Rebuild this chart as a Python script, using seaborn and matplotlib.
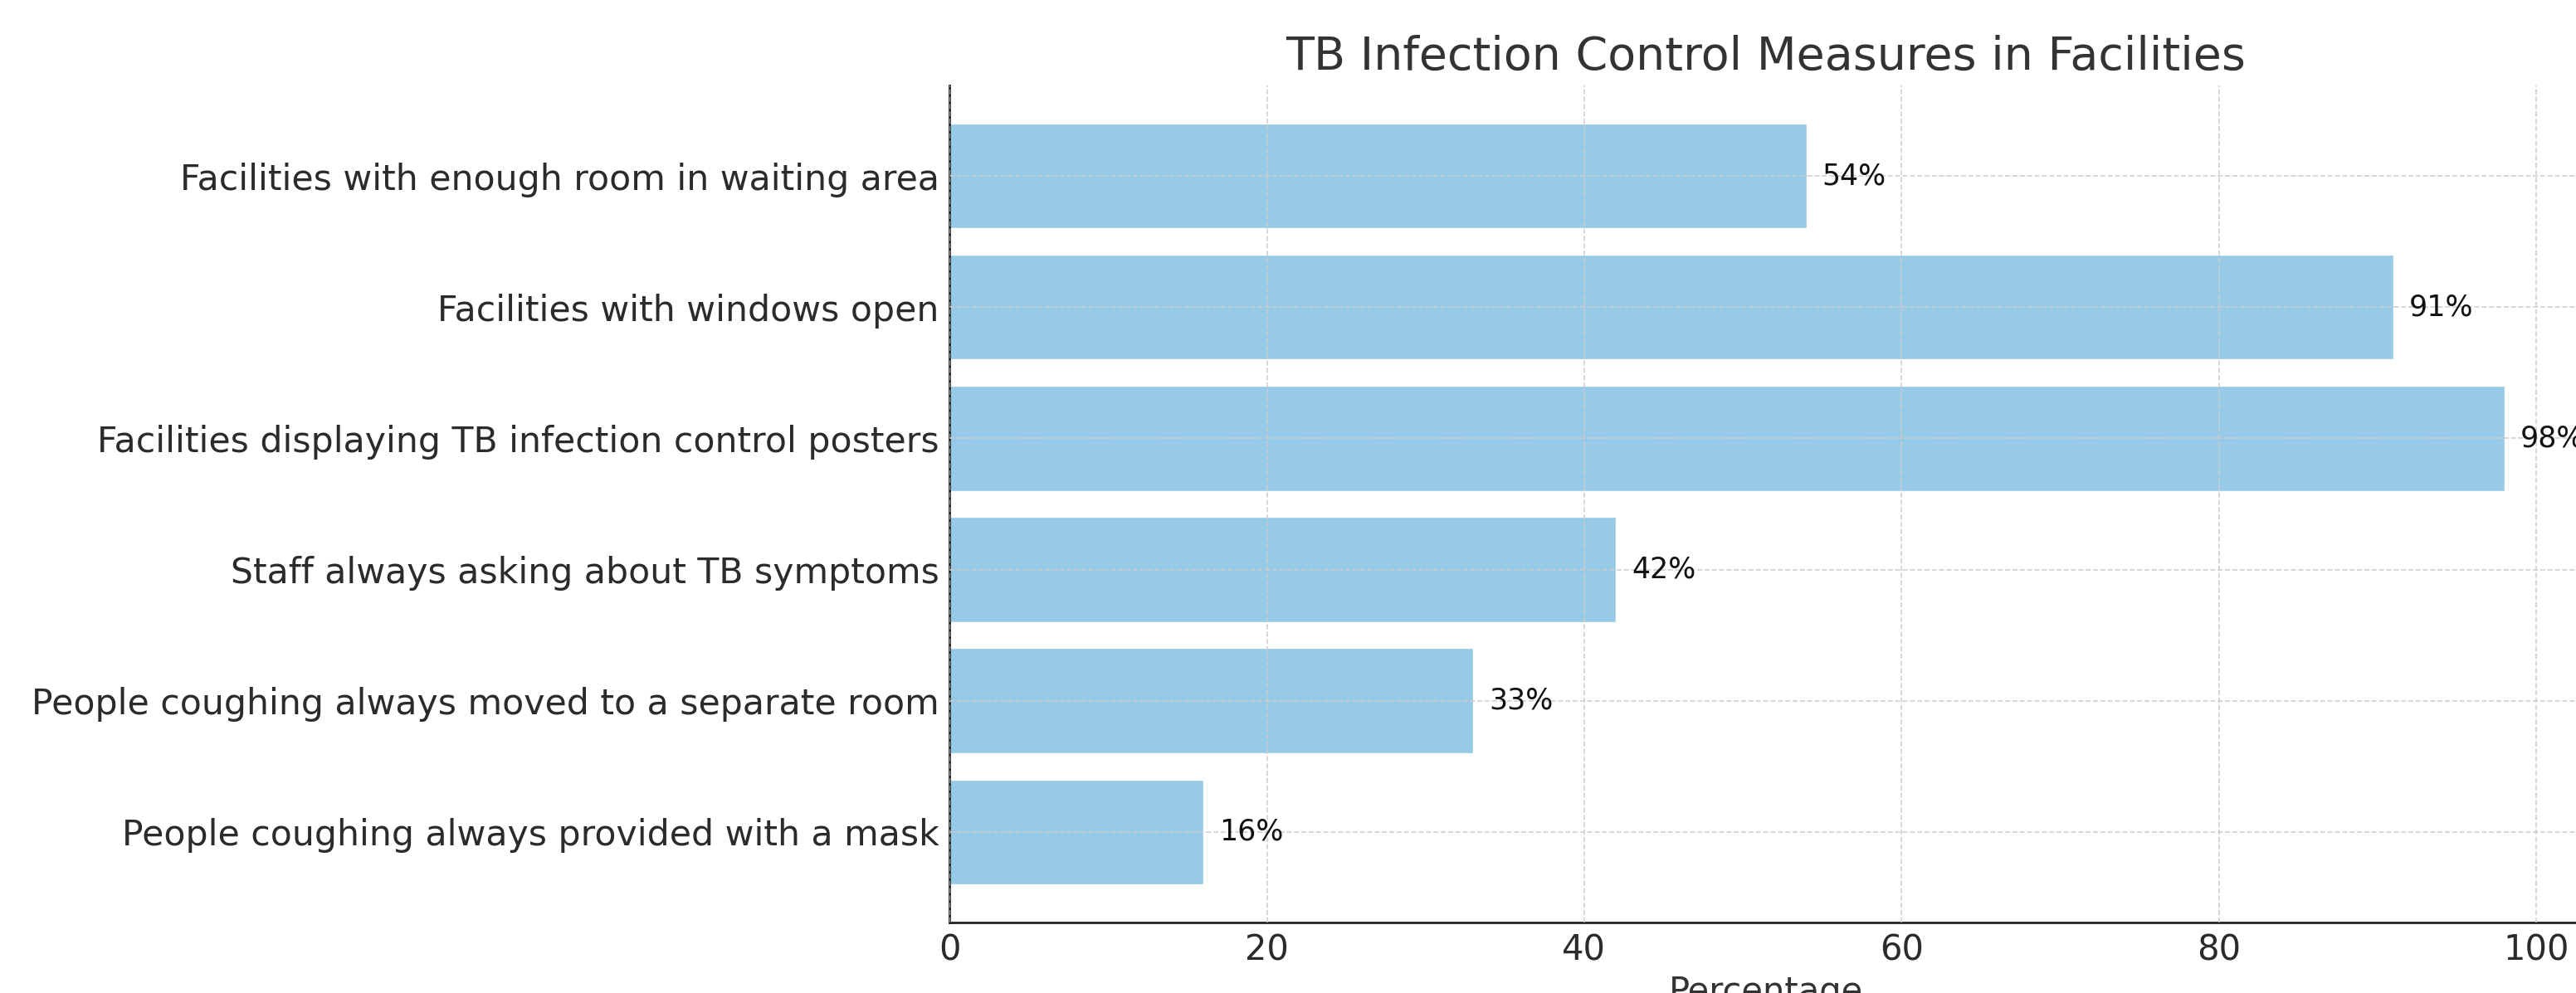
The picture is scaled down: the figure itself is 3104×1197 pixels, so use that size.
import matplotlib
matplotlib.use("Agg")
import matplotlib.pyplot as plt
import seaborn as sns
import pandas as pd

measures = [
    "Facilities with enough room in waiting area",
    "Facilities with windows open",
    "Facilities displaying TB infection control posters",
    "Staff always asking about TB symptoms",
    "People coughing always moved to a separate room",
    "People coughing always provided with a mask",
]
percentages = [54, 91, 98, 42, 33, 16]

df = pd.DataFrame({"Measure": measures, "Percentage": percentages})

sns.set_style("white")
plt.rcParams["font.family"] = ["DejaVu Sans"]

fig = plt.figure(figsize=(31.04, 11.97), dpi=100)
ax = fig.add_axes([0.3686, 0.071, 0.6338, 0.843])

sns.barplot(data=df, x="Percentage", y="Measure", orient="h", color="#97cae7",
            saturation=1, width=0.8, ax=ax)

n = len(measures)
ax.set_ylim(n - 1 + 0.69, -0.69)
ax.set_xlim(0, max(percentages) * 1.05)

ax.grid(True, linestyle="--", color="#cccccc", linewidth=1.2, alpha=0.9)
ax.set_axisbelow(False)

for i, v in enumerate(percentages):
    ax.text(v + 1, i, f"{v}%", va="center", ha="left", fontsize=25, color="#111111")

ax.set_title("TB Infection Control Measures in Facilities", fontsize=40, color="#333333", pad=14)
ax.set_xlabel("Percentage", fontsize=30, color="#333333", labelpad=6)
ax.set_ylabel("")
ax.tick_params(axis="both", direction="in", length=6, width=1.5, labelsize=30,
               labelcolor="#2b2b2b", pad=9)
ax.tick_params(axis="y", labelsize=30.7)
sns.despine(ax=ax, top=True, right=True)
for s in ["left", "bottom"]:
    ax.spines[s].set_color("#222222")
    ax.spines[s].set_linewidth(2)

fig.savefig("out.png", dpi=100)
